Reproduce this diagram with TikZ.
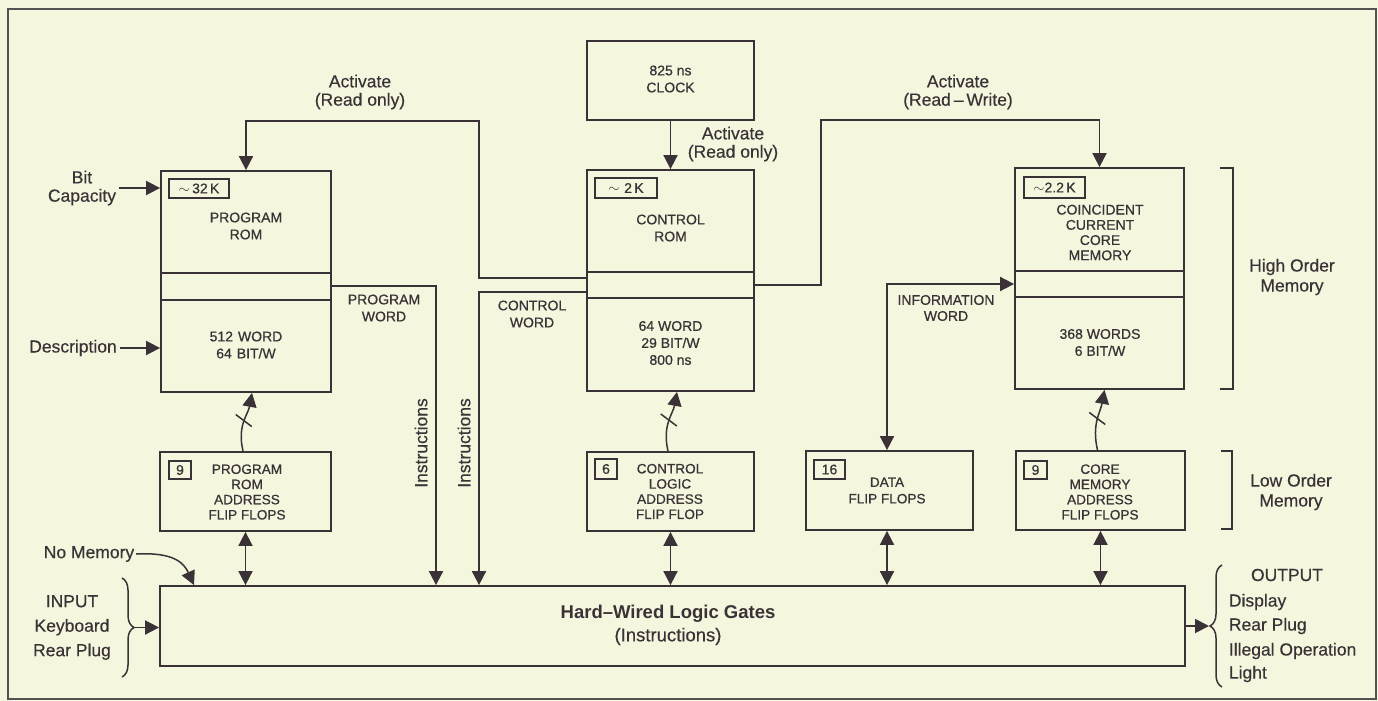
\documentclass[tikz,border=0pt]{standalone}
\usepackage{fontspec}
\setmainfont{Liberation Sans}
\newfontfamily\medsans[FakeBold=0.6,Ligatures=TeX]{Liberation Sans}
\newfontfamily\lblsans[FakeBold=0.35,Ligatures=TeX]{Liberation Sans}
\usetikzlibrary{arrows.meta,decorations.pathreplacing,calc}
\definecolor{bg}{HTML}{F4F6DD}
\definecolor{ink}{HTML}{3A3236}
\newcommand{\myboxfont}{\medsans\fontsize{14}{17}\selectfont}
\newcommand{\myfffont}{\medsans\fontsize{13.6}{15.2}\selectfont}
\newcommand{\mytagfont}{\medsans\fontsize{14}{16}\selectfont}
\newcommand{\mylblfont}{\lblsans\fontsize{17.5}{18.3}\selectfont}
\newcommand{\mysidefont}{\lblsans\fontsize{17.5}{20}\selectfont}
\newcommand{\myiofont}{\lblsans\fontsize{17.5}{24.5}\selectfont}
\newcommand{\mygatefont}{\fontsize{18.5}{23}\selectfont}
\begin{document}
\begin{tikzpicture}[x=1pt,y=-1pt,color=ink,line width=1.8pt,
  box/.style={draw,rectangle,inner sep=0pt},
  tag/.style={draw,rectangle,inner sep=0pt,line width=1.5pt,font=\mytagfont},
  btxt/.style={align=center,font=\myboxfont,inner sep=0pt},
  fftxt/.style={align=center,font=\myfffont,inner sep=0pt},
  lbl/.style={align=center,font=\mylblfont,inner sep=2pt},
  side/.style={align=center,font=\mysidefont,inner sep=2pt},
  arr/.style={-{Triangle[length=14pt,width=14pt]}},
  dbl/.style={{Triangle[length=14pt,width=14pt]}-{Triangle[length=14pt,width=14pt]}},
  brk/.style={line width=1.5pt}]
\fill[bg] (0,0) rectangle (1378,701);
\useasboundingbox (0,0) rectangle (1378,701);
\draw[line width=1.4pt,ink!85] (8,9) rectangle (1376,699);

% main memory boxes
\node[box,minimum width=170pt,minimum height=221pt] (prom) at (246,281.5) {};
\node[box,minimum width=167pt,minimum height=221pt] (crom) at (670.5,280.5) {};
\node[box,minimum width=169pt,minimum height=221pt] (core) at (1099.5,278.5) {};
\node[box,minimum width=167pt,minimum height=79pt] (clock) at (670.5,80.5) {};
\draw (prom.west |- 0,273) -- (prom.east |- 0,273);
\draw (prom.west |- 0,300) -- (prom.east |- 0,300);
\draw (crom.west |- 0,272) -- (crom.east |- 0,272);
\draw (crom.west |- 0,298) -- (crom.east |- 0,298);
\draw (core.west |- 0,271) -- (core.east |- 0,271);
\draw (core.west |- 0,297) -- (core.east |- 0,297);

\node[tag,minimum width=60pt,minimum height=19pt] (promtag) at (199,188.5) {$\sim$\,32\,K};
\node[tag,minimum width=62pt,minimum height=20pt] (cromtag) at (626,188) {$\sim$\,\,2\,K};
\node[tag,minimum width=61pt,minimum height=21pt] (coretag) at (1054.5,187.5) {$\sim$2.2\,K};

\node[btxt] (promt1) at (246,226) {PROGRAM\\ROM};
\node[btxt] (promt2) at (246,345) {512\hspace{5pt}WORD\\64\hspace{5pt}BIT/W};
\node[btxt] (cromt1) at (670.5,228) {CONTROL\\ROM};
\node[btxt] (cromt2) at (670.5,343) {64 WORD\\29 BIT/W\\800 ns};
\node[fftxt,font=\medsans\fontsize{14}{15.2}\selectfont] (coret1) at (1100,232.5) {COINCIDENT\\CURRENT\\CORE\\MEMORY};
\node[btxt] (coret2) at (1100,342.5) {368 WORDS\\6 BIT/W};
\node[btxt] (clockt) at (670.5,79) {825 ns\\CLOCK};

% flip flop boxes
\node[box,minimum width=171pt,minimum height=79pt] (pff) at (245.5,491.5) {};
\node[box,minimum width=167pt,minimum height=79pt] (cff) at (670.5,491.5) {};
\node[box,minimum width=167pt,minimum height=79pt] (dff) at (889.5,490.5) {};
\node[box,minimum width=169pt,minimum height=79pt] (mff) at (1100.5,490.5) {};
\node[tag,minimum width=22pt,minimum height=18pt] (pfftag) at (180,470) {9};
\node[tag,minimum width=22pt,minimum height=20pt] (cfftag) at (606,469) {6};
\node[tag,minimum width=31pt,minimum height=19pt] (dfftag) at (829.5,469.5) {16};
\node[tag,minimum width=23pt,minimum height=18pt] (mfftag) at (1035.5,470) {9};
\node[fftxt] (pfft) at (247,492) {PROGRAM\\ROM\\ADDRESS\\FLIP FLOPS};
\node[fftxt] (cfft) at (670,491.5) {CONTROL\\LOGIC\\ADDRESS\\FLIP FLOP};
\node[fftxt,font=\medsans\fontsize{13.6}{16.5}\selectfont] (dfft) at (887,490.5) {DATA\\FLIP FLOPS};
\node[fftxt] (mfft) at (1100,492) {CORE\\MEMORY\\ADDRESS\\FLIP FLOPS};

% gates
\node[box,minimum width=1025pt,minimum height=80pt] (gates) at (672.5,626) {};
\node[align=center,font=\mygatefont,inner sep=0pt] (gatest) at (668,625) {\textbf{Hard--Wired Logic Gates}\\{\lblsans(Instructions)}};

% labels
\node[lbl] (actl) at (360,92) {Activate\\(Read only)};
\node[lbl] (actc) at (733,144) {Activate\\(Read only)};
\node[lbl] (actr) at (958,92) {Activate\\(Read\,--\,Write)};
\node[btxt] (pword) at (384,308) {PROGRAM\\WORD};
\node[btxt] (cword) at (532,314) {CONTROL\\WORD};
\node[btxt,font=\medsans\fontsize{14}{16}\selectfont] (iword) at (946,308) {INFORMATION\\WORD};
\node[lbl,rotate=90] (instr1) at (421,443) {Instructions};
\node[lbl,rotate=90] (instr2) at (464,443) {Instructions};
\node[lbl] (bitcap) at (82,188) {Bit\\Capacity};
\node[lbl] (descr) at (73,348) {Description};
\node[lbl,inner sep=1pt] (nomem) at (89,554) {No Memory};
\node[side] (hom) at (1292,277) {High Order\\Memory};
\node[side] (lom) at (1291,492) {Low Order\\Memory};
\node[align=center,font=\myiofont,inner sep=0pt] (input) at (72,627.5) {INPUT\\Keyboard\\Rear Plug};
\node[font=\mylblfont,inner sep=0pt] (outh) at (1287,575) {OUTPUT};
\node[font=\mylblfont,inner sep=0pt,anchor=west] (out1) at (1228,602) {Display};
\node[font=\mylblfont,inner sep=0pt,anchor=west] (out2) at (1228,626) {Rear Plug};
\node[font=\mylblfont,inner sep=0pt,anchor=west] (out3) at (1228,651) {Illegal Operation};
\node[font=\mylblfont,inner sep=0pt,anchor=west] (out4) at (1228,674) {Light};

% connectors
\draw[arr] (clock) -- (crom);
\draw[arr] (crom.west |- 0,278) -- (479,278) -- (479,121) -| (prom.north);
\draw[arr] (crom.east |- 0,285) -- (821,285) -- (821,120) -| (core.north);
\draw[arr] (prom.east |- 0,286) -| (gates.north -| 436,0);
\draw[arr] (crom.west |- 0,292) -| (gates.north -| 479,0);
\draw[dbl] (core.west |- 0,284) -| (dff.north -| 887,0);
\draw[arr] (bitcap.east |- 0,188) -- (prom.west |- 0,188);
\draw[arr] (descr.east) -- (descr.east -| prom.west);
\draw[arr,line width=1.5pt] (nomem.east) .. controls +(38,-2) and +(-10,-22) .. (gates.north -| 194,0);

\draw[dbl] (pff.south) -- (pff.south |- gates.north);
\draw[dbl] (cff.south) -- (cff.south |- gates.north);
\draw[dbl] (dff.south -| 887,0) -- (gates.north -| 887,0);
\draw[dbl] (mff.south) -- (mff.south |- gates.north);

\draw[arr,line width=1.5pt] ([xshift=-2.5pt]pff.north) .. controls +(-6,-26) and +(-4,22) .. ([xshift=6pt]prom.south) coordinate[pos=0.5] (pc1);
\draw[arr,line width=1.5pt] ([xshift=-2.5pt]cff.north) .. controls +(-6,-26) and +(-4,22) .. ([xshift=6.5pt]crom.south) coordinate[pos=0.5] (pc2);
\draw[arr,line width=1.5pt] ([xshift=-3pt]mff.north) .. controls +(-6,-26) and +(-4,22) .. ([xshift=5pt]core.south) coordinate[pos=0.5] (pc3);
\draw[line width=1.5pt] ($(pc1)+(-8,-6)$) -- ($(pc1)+(8,6)$);
\draw[line width=1.5pt] ($(pc2)+(-8,-6)$) -- ($(pc2)+(8,6)$);
\draw[line width=1.5pt] ($(pc3)+(-8,-6)$) -- ($(pc3)+(8,6)$);

% brackets and braces
\draw[brk] (1220,168) -- (1233,168) -- (1233,389) -- (1220,389);
\draw[brk] (1221,451) -- (1232,451) -- (1232,529) -- (1221,529);
\draw[brk,decorate,decoration={brace,amplitude=12pt}] (122,578) -- (122,677);
\coordinate (intip) at (134,627.5);
\draw[arr] (intip) -- (intip -| gates.west);
\draw[brk,decorate,decoration={brace,amplitude=12pt}] (1222,687) -- (1222,565);
\coordinate (outtip) at (1209,626);
\draw[arr] (gates.east) -- (outtip);
\end{tikzpicture}
\end{document}
